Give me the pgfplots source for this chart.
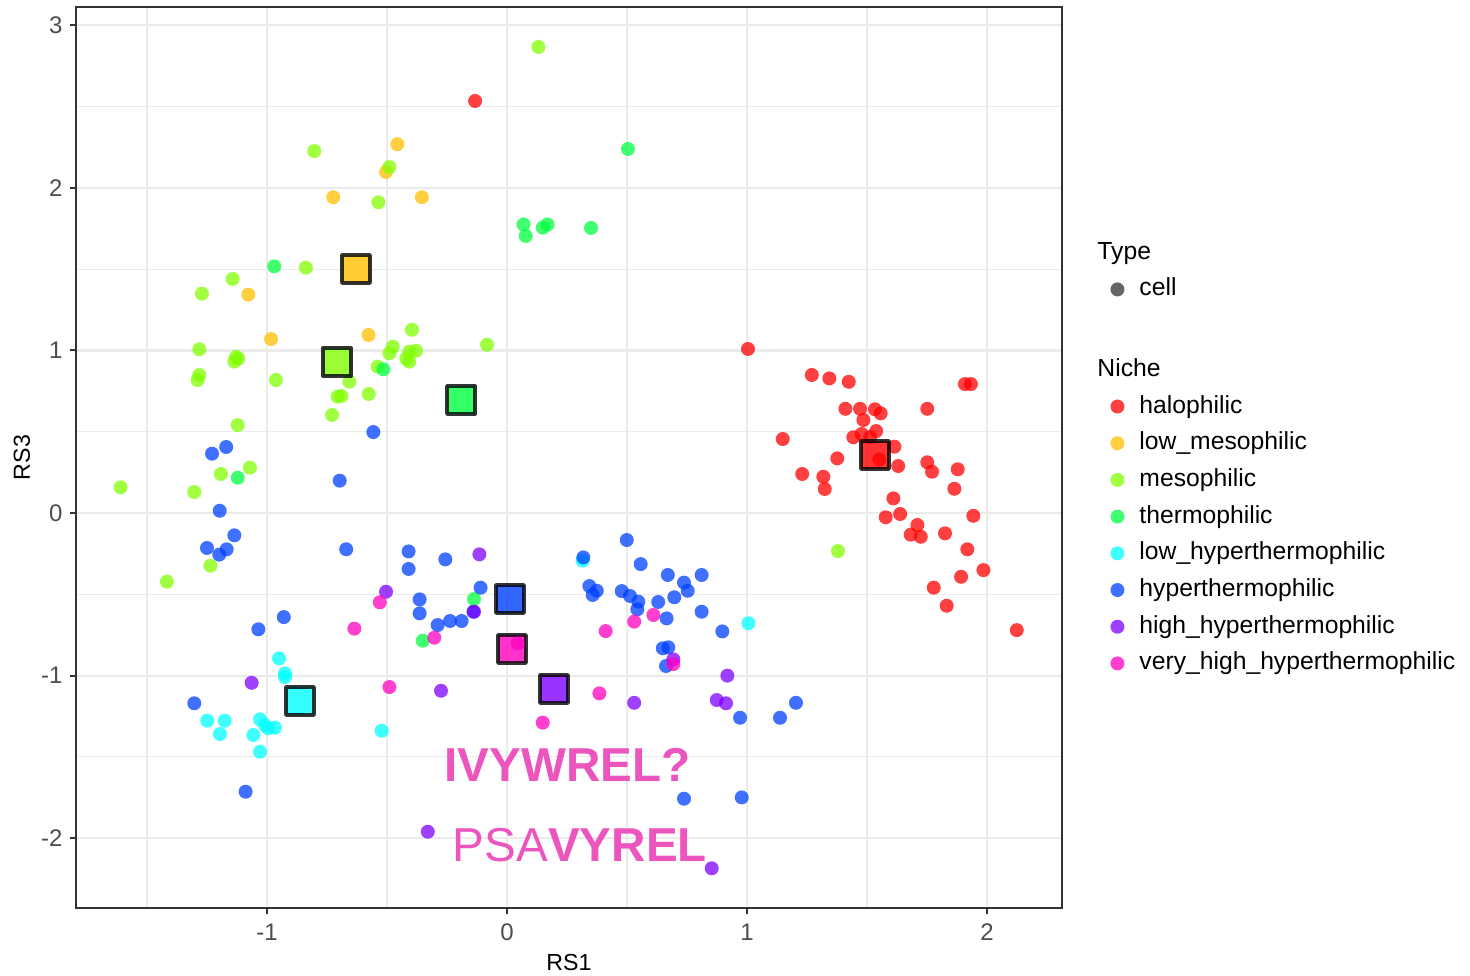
\documentclass[border=0pt]{standalone}
\usepackage{fontspec}
\setmainfont{Liberation Sans}
\usepackage{pgfplots}
\pgfplotsset{compat=1.18}
\definecolor{c1}{HTML}{FF0000}
\definecolor{c2}{HTML}{FFBF00}
\definecolor{c3}{HTML}{80FF00}
\definecolor{c4}{HTML}{00FF40}
\definecolor{c5}{HTML}{00FFFF}
\definecolor{c6}{HTML}{0040FF}
\definecolor{c7}{HTML}{8000FF}
\definecolor{c8}{HTML}{FF00BF}
\definecolor{annot}{HTML}{EC55BE}
\definecolor{grid92}{HTML}{EBEBEB}
\definecolor{g20}{HTML}{333333}
\definecolor{g30}{HTML}{4D4D4D}
\pgfplotsset{
  pt/.style={only marks, mark=*, mark size=3.5pt, color=#1, mark options={draw opacity=0, line width=0pt, fill=#1, fill opacity=0.75}, forget plot},
  cen/.style={only marks, mark=square*, mark size=7pt, mark options={fill=#1, fill opacity=0.8, draw=black, draw opacity=0.8, line width=1.8pt, line join=round}, forget plot},
  lg/.style={only marks, mark=*, mark size=3.5pt, color=#1, mark options={draw opacity=0, line width=0pt, fill=#1, fill opacity=0.75}},
}
\begin{document}
\begin{tikzpicture}
\useasboundingbox (-38pt,-33.5pt) rectangle (697pt,454pt);
\begin{axis}[
  scale only axis, width=493pt, height=450.5pt,
  xmin=-1.7958, xmax=2.3125, ymin=-2.429, ymax=3.112,
  xtick={-1,0,1,2}, xticklabels={-1,0,1,2},
  ytick={-2,-1,0,1,2,3}, yticklabels={-2,-1,0,1,2,3},
  minor xtick={-1.5,-0.5,0.5,1.5}, minor ytick={-1.5,-0.5,0.5,1.5,2.5},
  grid=both,
  major grid style={draw=grid92, line width=1.1pt},
  minor grid style={draw=grid92, line width=0.55pt},
  minor tick length=0pt,
  major tick length=2.75pt,
  tick align=outside,
  tick style={draw=g20, line width=1pt},
  xtick pos=bottom, ytick pos=left,
  axis line style={draw=g20, line width=1pt},
  ticklabel style={font=\fontsize{12}{14}\selectfont, text=g30, inner sep=0pt},
  xticklabel style={anchor=north, yshift=-5pt},
  yticklabel style={anchor=east, xshift=-3.8pt},
  xlabel={RS1}, ylabel={RS3},
  every axis x label/.style={at={(axis description cs:0.5,0)}, anchor=center, yshift=-27.5pt, font=\fontsize{11.6}{14}\selectfont},
  every axis y label/.style={at={(axis description cs:0,0.5)}, anchor=center, xshift=-27pt, rotate=90, font=\fontsize{11.6}{14}\selectfont},
  legend style={at={(1.0385,0.7405)}, anchor=north west, draw=none, fill=none,
    font=\fontsize{12.35}{14}\selectfont, inner sep=0pt,
    nodes={inner sep=0pt, text height=9pt, text depth=2.5pt},
    row sep=6.85pt, column sep=7.5pt},
  legend cell align=left,
  clip=false,
]
% halophilic
\addplot[pt=c1] coordinates {(1.270,0.849) (1.343,0.828) (1.424,0.807) (1.908,0.793) (1.933,0.793) (1.410,0.641) (1.471,0.641) (1.533,0.638) (1.557,0.613) (1.485,0.572) (1.751,0.641) (1.149,0.455) (1.443,0.466) (1.478,0.486) (1.538,0.504) (1.513,0.467) (1.614,0.408) (1.376,0.336) (1.230,0.240) (1.318,0.223) (1.324,0.148) (1.630,0.289) (1.751,0.312) (1.771,0.254) (1.878,0.269) (1.864,0.149) (1.610,0.090) (1.578,-0.026) (1.638,-0.006) (1.943,-0.017) (1.710,-0.074) (1.682,-0.133) (1.724,-0.146) (1.825,-0.125) (1.918,-0.223) (1.985,-0.351) (1.892,-0.392) (1.778,-0.459) (1.832,-0.570) (2.124,-0.720) (1.004,1.009) (-0.133,2.534)};
% low_mesophilic
\addplot[pt=c2] coordinates {(-0.457,2.268) (-0.504,2.097) (-0.724,1.942) (-0.355,1.942) (-1.078,1.343) (-0.983,1.070) (-0.577,1.095)};
% mesophilic
\addplot[pt=c3] coordinates {(0.131,2.866) (-0.803,2.226) (-0.490,2.128) (-0.536,1.911) (-0.838,1.509) (-1.143,1.439) (-1.271,1.349) (-0.396,1.127) (-1.282,1.007) (-1.129,0.961) (-1.136,0.931) (-1.120,0.950) (-1.282,0.849) (-1.289,0.818) (-0.963,0.818) (-0.083,1.035) (-0.476,1.023) (-0.490,0.982) (-0.407,0.992) (-0.379,0.998) (-0.407,0.931) (-0.539,0.900) (-0.657,0.808) (-0.706,0.716) (-0.690,0.720) (-0.576,0.732) (-0.729,0.603) (-1.122,0.541) (-1.192,0.240) (-1.071,0.279) (-1.610,0.158) (-1.303,0.129) (-1.236,-0.324) (-1.417,-0.422) (1.379,-0.234) (-0.420,0.950)};
% thermophilic
\addplot[pt=c4] coordinates {(0.504,2.239) (0.069,1.775) (0.078,1.704) (0.149,1.755) (0.169,1.775) (0.350,1.753) (-0.970,1.517) (-0.515,0.884) (-1.122,0.217) (-0.351,-0.785) (-0.1375,-0.529)};
% low_hyperthermophilic
\addplot[pt=c5] coordinates {(-0.950,-0.894) (-0.925,-0.986) (-0.925,-1.009) (-1.249,-1.277) (-1.176,-1.277) (-1.196,-1.359) (-1.029,-1.269) (-1.008,-1.304) (-0.967,-1.320) (-0.995,-1.324) (-1.057,-1.365) (-1.029,-1.468) (-0.522,-1.339) (0.315,-0.293) (1.006,-0.678)};
% hyperthermophilic
\addplot[pt=c6] coordinates {(-1.229,0.365) (-1.170,0.406) (-0.557,0.498) (-0.697,0.199) (-1.197,0.014) (-1.136,-0.137) (-1.250,-0.215) (-1.199,-0.256) (-1.168,-0.223) (-0.670,-0.223) (-1.036,-0.715) (-0.930,-0.640) (-1.303,-1.170) (-1.089,-1.714) (-0.410,-0.236) (-0.410,-0.344) (-0.257,-0.285) (-0.364,-0.531) (-0.364,-0.617) (-0.289,-0.689) (-0.2375,-0.664) (-0.189,-0.664) (-0.140,-0.607) (-0.110,-0.459) (0.499,-0.166) (0.318,-0.273) (0.557,-0.314) (0.670,-0.381) (0.811,-0.381) (0.343,-0.449) (0.374,-0.478) (0.357,-0.504) (0.478,-0.480) (0.5125,-0.510) (0.547,-0.545) (0.543,-0.592) (0.630,-0.547) (0.7375,-0.428) (0.753,-0.478) (0.697,-0.518) (0.665,-0.648) (0.811,-0.607) (0.897,-0.728) (0.649,-0.832) (0.672,-0.826) (0.6625,-0.941) (0.971,-1.259) (1.1375,-1.259) (1.204,-1.167) (0.7375,-1.757) (0.978,-1.749)};
% high_hyperthermophilic
\addplot[pt=c7] coordinates {(-0.504,-0.484) (-0.115,-0.254) (-1.064,-1.044) (-0.275,-1.093) (-0.330,-1.960) (-0.1375,-0.607) (0.530,-1.167) (0.918,-1.000) (0.874,-1.150) (0.9125,-1.170) (0.853,-2.185) (0.693,-0.900)};
% very_high_hyperthermophilic
\addplot[pt=c8] coordinates {(-0.530,-0.549) (-0.636,-0.711) (-0.303,-0.767) (-0.490,-1.070) (0.149,-1.289) (0.411,-0.726) (0.530,-0.668) (0.610,-0.627) (0.385,-1.109) (0.693,-0.929)};
% centroids
\addplot[cen=c1] coordinates {(1.533,0.357)};
\addplot[cen=c2] coordinates {(-0.629,1.501)};
\addplot[cen=c3] coordinates {(-0.708,0.929)};
\addplot[cen=c4] coordinates {(-0.192,0.695)};
\addplot[cen=c5] coordinates {(-0.8625,-1.156)};
\addplot[cen=c6] coordinates {(0.0125,-0.529)};
\addplot[cen=c7] coordinates {(0.196,-1.082)};
\addplot[cen=c8] coordinates {(0.021,-0.836)};
% points drawn over centroids
\addplot[pt=c1] coordinates {(1.551,0.330)};
\addplot[pt=c8] coordinates {(0.0446,-0.801)};
% annotations
\node[font=\fontsize{23.8}{28}\selectfont\bfseries, text=annot, anchor=base, inner sep=0pt] at (axis cs:0.252,-1.654) {IVYWREL?};
\node[font=\fontsize{23.8}{28}\selectfont, text=annot, anchor=base, inner sep=0pt] at (axis cs:0.304,-2.146) {PSA\textbf{VYREL}};
% legend
\addlegendimage{empty legend}\addlegendentry{\hspace*{-21pt}Type}
\addlegendimage{lg=g20}\addlegendentry{cell}
\addlegendimage{empty legend}\addlegendentry[text depth=6pt]{}
\addlegendimage{empty legend}\addlegendentry{\hspace*{-21pt}Niche}
\addlegendimage{lg=c1}\addlegendentry{halophilic}
\addlegendimage{lg=c2}\addlegendentry{low\_mesophilic}
\addlegendimage{lg=c3}\addlegendentry{mesophilic}
\addlegendimage{lg=c4}\addlegendentry{thermophilic}
\addlegendimage{lg=c5}\addlegendentry{low\_hyperthermophilic}
\addlegendimage{lg=c6}\addlegendentry{hyperthermophilic}
\addlegendimage{lg=c7}\addlegendentry{high\_hyperthermophilic}
\addlegendimage{lg=c8}\addlegendentry{very\_high\_hyperthermophilic}
\end{axis}
\end{tikzpicture}
\end{document}
